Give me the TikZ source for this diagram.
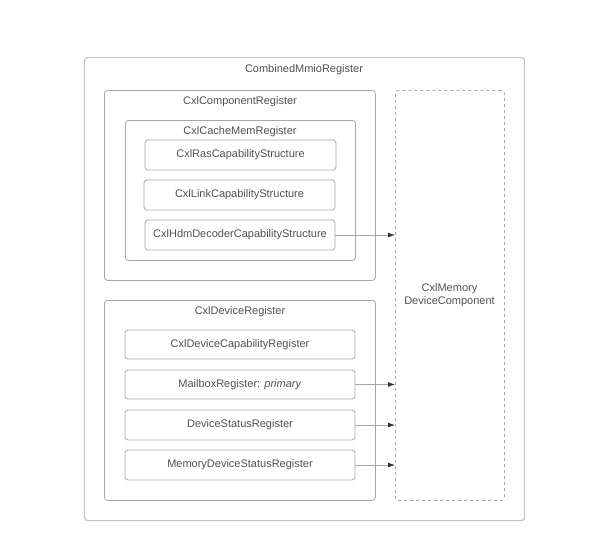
\documentclass[tikz,border=0pt]{standalone}
\usepackage{fontspec}
\setmainfont{Liberation Sans}
\usetikzlibrary{arrows.meta}
\definecolor{boxgray}{HTML}{A8A8A8}
\definecolor{outergray}{HTML}{C4C4C4}
\definecolor{txtgray}{HTML}{505050}
\definecolor{tipgray}{HTML}{2E343C}
\tikzset{
  box/.style={draw=boxgray, rounded corners=3pt, line width=0.8pt, text=txtgray},
  frame/.style={box, anchor=north west, inner sep=0pt},
  title/.style={text=txtgray, inner sep=0pt},
  link/.style={draw=boxgray, line width=0.8pt, -{Latex[length=7pt,width=5pt,color=tipgray]}}
}
\begin{document}
\begin{tikzpicture}[x=1pt, y=-1pt, font=\fontsize{11}{13}\selectfont]
      \useasboundingbox (0,0) rectangle (593,539);

      % outer and nested frames
      \node[frame, draw=outergray, line width=1.2pt, minimum width=440pt, minimum height=463pt] (mmio) at (84,57) {};
      \node[title] (mmiotitle) at (304,69.5) {CombinedMmioRegister};
      \node[frame, minimum width=271pt, minimum height=190pt] (comp) at (104,90) {};
      \node[title] (comptitle) at (240,102) {CxlComponentRegister};
      \node[frame, minimum width=230pt, minimum height=140pt] (cache) at (125,120) {};
      \node[title] (cachetitle) at (240,132) {CxlCacheMemRegister};
      \node[frame, minimum width=271pt, minimum height=200pt] (dev) at (104,300) {};
      \node[title] (devtitle) at (240,312) {CxlDeviceRegister};

      \node[frame, dashed, minimum width=109pt, minimum height=410pt] (mem) at (395,90) {};
      \node[title, align=center] (memtitle) at (449.5,295.5) {CxlMemory\\DeviceComponent};

      % capability structures
      \node[box, minimum width=191pt, minimum height=30pt] (ras) at (240.5,155) {CxlRasCapabilityStructure};
      \node[box, minimum width=191pt, minimum height=30pt] (lnk) at (239.5,195) {CxlLinkCapabilityStructure};
      \node[box, minimum width=190pt, minimum height=30pt] (hdm) at (240,235) {CxlHdmDecoderCapabilityStructure};

      % device registers
      \node[box, minimum width=230pt, minimum height=29pt] (cap) at (240,344.5) {CxlDeviceCapabilityRegister};
      \node[box, minimum width=230pt, minimum height=29pt] (mbox) at (240,384.5) {MailboxRegister: \textit{primary}};
      \node[box, minimum width=230pt, minimum height=30pt] (stat) at (240,425) {DeviceStatusRegister};
      \node[box, minimum width=230pt, minimum height=30pt] (mstat) at (240,465) {MemoryDeviceStatusRegister};

      \draw[link] (hdm.east) -- (hdm.east -| mem.west);
      \draw[link] (mbox.east) -- (mbox.east -| mem.west);
      \draw[link] (stat.east) -- (stat.east -| mem.west);
      \draw[link] (mstat.east) -- (mstat.east -| mem.west);
    \end{tikzpicture}
\end{document}
